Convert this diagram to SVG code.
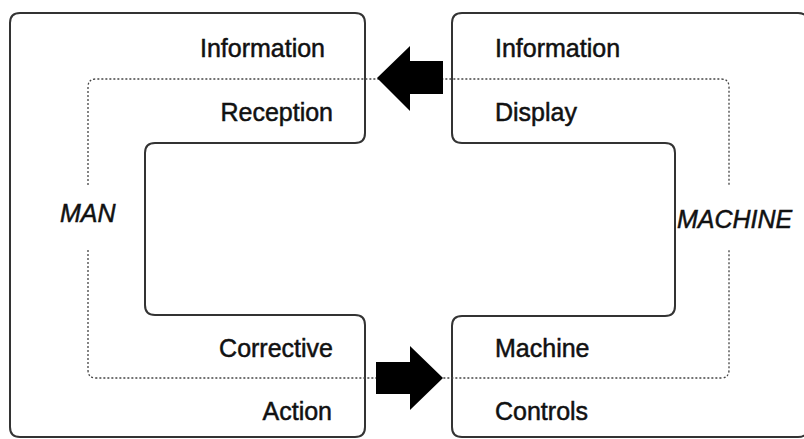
<svg xmlns="http://www.w3.org/2000/svg" width="804" height="439" viewBox="0 0 804 439">
<style>
.shape{fill:none;stroke:#333;stroke-width:2}
.dot{fill:none;stroke:#444;stroke-width:1.3;stroke-dasharray:2 2}
.arrow{fill:#000}
text{font-family:"Liberation Sans",Arial,sans-serif;font-size:25px;fill:#111;stroke:#111;stroke-width:0.5}
.it{font-style:italic}
</style>
<rect width="804" height="439" fill="#fff"/>
<g id="man">
<path class="shape" d="M 20,13 H 355 Q 365,13 365,23 V 133 Q 365,143 355,143 H 155 Q 145,143 145,153 V 305 Q 145,315 155,315 H 355 Q 365,315 365,325 V 427 Q 365,437 355,437 H 20 Q 10,437 10,427 V 23 Q 10,13 20,13 Z"/>
<text x="325" y="57" text-anchor="end">Information</text>
<text x="333" y="121" text-anchor="end">Reception</text>
<text x="333" y="357" text-anchor="end">Corrective</text>
<text x="332" y="420" text-anchor="end">Action</text>
<text class="it" x="60" y="222">MAN</text>
</g>
<g id="machine">
<path class="shape" d="M 462,13 H 798 Q 808,13 808,23 V 427 Q 808,437 798,437 H 462 Q 452,437 452,427 V 326 Q 452,316 462,316 H 665 Q 675,316 675,306 V 153 Q 675,143 665,143 H 462 Q 452,143 452,133 V 23 Q 452,13 462,13 Z"/>
<text x="495" y="57">Information</text>
<text x="495" y="121">Display</text>
<text x="495" y="357">Machine</text>
<text x="495" y="420">Controls</text>
<text class="it" x="677" y="228">MACHINE</text>
</g>
<g id="connectors">
<path class="dot" d="M 88,185 V 87 Q 88,79 96,79 H 721 Q 729,79 729,87 V 185"/>
<path class="dot" d="M 88,250 V 370 Q 88,378 96,378 H 721 Q 729,378 729,370 V 250"/>
<polygon class="arrow" points="377,78 410,46 410,61 443,61 443,94 410,94 410,111"/>
<polygon class="arrow" points="443,378 410,346 410,362 376,362 376,394 410,394 410,410"/>
</g>
</svg>
